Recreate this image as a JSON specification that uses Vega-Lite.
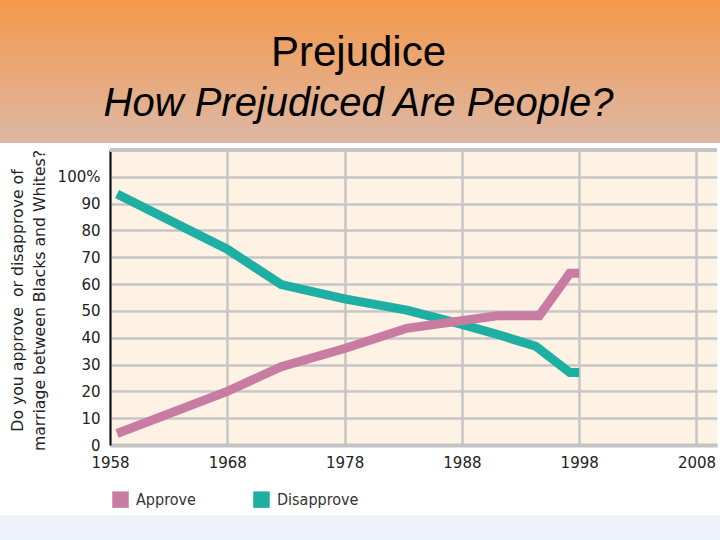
{
  "$schema": "https://vega.github.io/schema/vega-lite/v6.json",
  "width": 607,
  "height": 295,
  "autosize": {"type": "none"},
  "padding": {"left": 110, "top": 150, "right": 3, "bottom": 95},
  "background": "white",
  "title": {
    "text": "Prejudice",
    "subtitle": "How Prejudiced Are People?",
    "anchor": "middle",
    "frame": "group",
    "dx": -55,
    "offset": -125,
    "font": "Liberation Sans",
    "fontSize": 42,
    "fontWeight": "normal",
    "color": "#000000",
    "subtitleFont": "Liberation Sans",
    "subtitleFontSize": 40,
    "subtitleFontStyle": "italic",
    "subtitleColor": "#000000",
    "subtitlePadding": 9
  },
  "config": {
    "view": {"fill": "#FDF2E3", "stroke": null},
    "axisX": {
      "grid": true,
      "labelFlush": false,
      "labelOverlap": false,
      "domainColor": "#C4C4C4",
      "domainWidth": 4,
      "ticks": false,
      "gridColor": "#C6C6C6",
      "gridWidth": 2.5,
      "gridOpacity": 1,
      "labelFont": "DejaVu Sans",
      "labelFontSize": 15,
      "labelColor": "#222222",
      "labelPadding": 10
    },
    "axisY": {
      "grid": true,
      "labelFlush": false,
      "labelOverlap": false,
      "domainColor": "#111111",
      "domainWidth": 2,
      "ticks": false,
      "gridColor": "#C6C6C6",
      "gridWidth": 2.5,
      "gridOpacity": 1,
      "labelFont": "DejaVu Sans",
      "labelFontSize": 15,
      "labelColor": "#222222",
      "labelPadding": 10,
      "titleX": -88,
      "titleY": 150,
      "titleAngle": 270,
      "titleAlign": "center",
      "titleBaseline": "alphabetic",
      "titleFont": "DejaVu Sans",
      "titleFontSize": 15.7,
      "titleFontWeight": "normal",
      "titleColor": "#222222",
      "titleLineHeight": 22
    }
  },
  "datasets": {
    "survey": [
      {"year": 1958.6, "pct": 93.6, "series": "Disapprove"},
      {"year": 1968, "pct": 73, "series": "Disapprove"},
      {"year": 1972.6, "pct": 59.8, "series": "Disapprove"},
      {"year": 1978, "pct": 54.5, "series": "Disapprove"},
      {"year": 1983.3, "pct": 50.3, "series": "Disapprove"},
      {"year": 1988, "pct": 45, "series": "Disapprove"},
      {"year": 1991.2, "pct": 41, "series": "Disapprove"},
      {"year": 1994.3, "pct": 36.8, "series": "Disapprove"},
      {"year": 1997.2, "pct": 27, "series": "Disapprove"},
      {"year": 1998, "pct": 27, "series": "Disapprove"},
      {"year": 1958.6, "pct": 4.3, "series": "Approve"},
      {"year": 1968, "pct": 20, "series": "Approve"},
      {"year": 1972.6, "pct": 29.2, "series": "Approve"},
      {"year": 1978, "pct": 36, "series": "Approve"},
      {"year": 1983.3, "pct": 43.5, "series": "Approve"},
      {"year": 1991, "pct": 48.2, "series": "Approve"},
      {"year": 1994.6, "pct": 48.2, "series": "Approve"},
      {"year": 1997.2, "pct": 64, "series": "Approve"},
      {"year": 1998, "pct": 64, "series": "Approve"}
    ]
  },
  "layer": [
    {
      "data": {"values": [{}]},
      "mark": {
        "type": "rect",
        "color": {
          "gradient": "linear",
          "x1": 0, "y1": 0, "x2": 0, "y2": 1,
          "stops": [
            {"offset": 0, "color": "#F5984A"},
            {"offset": 1, "color": "#DDB8A5"}
          ]
        }
      },
      "encoding": {
        "x": {
          "datum": 1948.5, "type": "quantitative",
          "scale": {"domain": [1958, 2009.75], "nice": false, "zero": false},
          "axis": {"grid": true, "title": null, "values": [1958, 1968, 1978, 1988, 1998, 2008], "format": "d"}
        },
        "x2": {"datum": 2010.3},
        "y": {
          "datum": 165.93, "type": "quantitative",
          "scale": {"domain": [0, 110], "nice": false},
          "axis": {
            "grid": true,
            "title": ["Do you approve\u00a0 or disapprove of", "marriage between Blacks and Whites?"],
            "values": [0, 10, 20, 30, 40, 50, 60, 70, 80, 90, 100],
            "format": "d",
            "labelExpr": "datum.value == 100 ? '100%' : datum.label"
          }
        },
        "y2": {"datum": 112.6}
      }
    },
    {
      "data": {"values": [{}]},
      "mark": {"type": "rect", "color": "#EEF2FA"},
      "encoding": {
        "x": {
          "datum": 1948.5, "type": "quantitative",
          "axis": {"grid": true, "title": null, "values": [1958, 1968, 1978, 1988, 1998, 2008], "format": "d"}
        },
        "x2": {"datum": 2010.3},
        "y": {
          "datum": -26.1, "type": "quantitative",
          "axis": {
            "grid": true,
            "title": ["Do you approve\u00a0 or disapprove of", "marriage between Blacks and Whites?"],
            "values": [0, 10, 20, 30, 40, 50, 60, 70, 80, 90, 100],
            "format": "d",
            "labelExpr": "datum.value == 100 ? '100%' : datum.label"
          }
        },
        "y2": {"datum": -36}
      }
    },
    {
      "data": {"values": [{}]},
      "mark": {"type": "rule", "color": "#C4C4C4", "strokeWidth": 4},
      "encoding": {
        "y": {
          "datum": 110, "type": "quantitative",
          "axis": {
            "grid": true,
            "title": ["Do you approve\u00a0 or disapprove of", "marriage between Blacks and Whites?"],
            "values": [0, 10, 20, 30, 40, 50, 60, 70, 80, 90, 100],
            "format": "d",
            "labelExpr": "datum.value == 100 ? '100%' : datum.label"
          }
        }
      }
    },
    {
      "data": {"name": "survey"},
      "transform": [{"filter": "datum.series == 'Disapprove'"}],
      "mark": {"type": "line", "strokeWidth": 9, "strokeCap": "butt", "strokeJoin": "miter"},
      "encoding": {
        "x": {
          "field": "year", "type": "quantitative",
          "axis": {"grid": true, "title": null, "values": [1958, 1968, 1978, 1988, 1998, 2008], "format": "d"}
        },
        "y": {
          "field": "pct", "type": "quantitative",
          "axis": {
            "grid": true,
            "title": ["Do you approve\u00a0 or disapprove of", "marriage between Blacks and Whites?"],
            "values": [0, 10, 20, 30, 40, 50, 60, 70, 80, 90, 100],
            "format": "d",
            "labelExpr": "datum.value == 100 ? '100%' : datum.label"
          }
        },
        "color": {
          "field": "series", "type": "nominal",
          "scale": {"domain": ["Approve", "Disapprove"], "range": ["#C87CA2", "#1DAFA2"]},
          "legend": {
            "title": null,
            "orient": "none",
            "legendX": 2,
            "legendY": 341,
            "direction": "horizontal",
            "symbolType": "square",
            "symbolSize": 272,
            "symbolStrokeWidth": 0,
            "labelFont": "DejaVu Sans Condensed, DejaVu Sans",
            "labelFontSize": 16,
            "labelColor": "#333333",
            "labelOffset": 7,
            "columnPadding": 57,
            "padding": 0,
            "encode": {
              "symbols": {
                "update": {
                  "fill": {"scale": "color", "field": "value"},
                  "strokeWidth": {"value": 0}
                }
              }
            }
          }
        }
      }
    },
    {
      "data": {"name": "survey"},
      "transform": [{"filter": "datum.series == 'Approve'"}],
      "mark": {"type": "line", "strokeWidth": 9, "strokeCap": "butt", "strokeJoin": "miter"},
      "encoding": {
        "x": {
          "field": "year", "type": "quantitative",
          "axis": {"grid": true, "title": null, "values": [1958, 1968, 1978, 1988, 1998, 2008], "format": "d"}
        },
        "y": {
          "field": "pct", "type": "quantitative",
          "axis": {
            "grid": true,
            "title": ["Do you approve\u00a0 or disapprove of", "marriage between Blacks and Whites?"],
            "values": [0, 10, 20, 30, 40, 50, 60, 70, 80, 90, 100],
            "format": "d",
            "labelExpr": "datum.value == 100 ? '100%' : datum.label"
          }
        },
        "color": {"field": "series", "type": "nominal"}
      }
    }
  ]
}
